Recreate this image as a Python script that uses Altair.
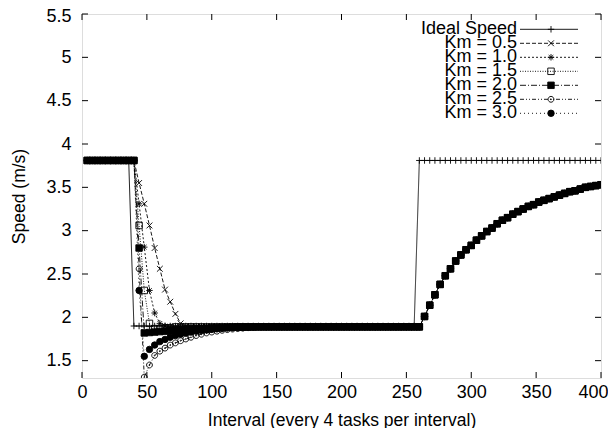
import altair as alt
import pandas as pd

# ---------------- data ----------------
x_values = [4, 8, 12, 16, 20, 24, 28, 32, 36, 40, 44, 48, 52, 56, 60, 64, 68, 72, 76, 80,
            84, 88, 92, 96, 100, 104, 108, 112, 116, 120, 124, 128, 132, 136, 140, 144, 148, 152, 156, 160,
            164, 168, 172, 176, 180, 184, 188, 192, 196, 200, 204, 208, 212, 216, 220, 224, 228, 232, 236, 240,
            244, 248, 252, 256, 260, 264, 268, 272, 276, 280, 284, 288, 292, 296, 300, 304, 308, 312, 316, 320,
            324, 328, 332, 336, 340, 344, 348, 352, 356, 360, 364, 368, 372, 376, 380, 384, 388, 392, 396, 400]

high = [3.81, 3.81, 3.81, 3.81, 3.81, 3.81, 3.81, 3.81, 3.81, 3.81, 3.81, 3.81,
        3.81, 3.81, 3.81, 3.81, 3.81, 3.81, 3.81, 3.81, 3.81, 3.81, 3.81, 3.81,
        3.81, 3.81, 3.81, 3.81, 3.81, 3.81, 3.81, 3.81, 3.81, 3.81, 3.81, 3.81]
ideal_low = [1.9, 1.9, 1.9, 1.9, 1.9, 1.9, 1.9, 1.9, 1.9, 1.9, 1.9, 1.9, 1.9, 1.9,
             1.9, 1.9, 1.9, 1.9, 1.9, 1.9, 1.9, 1.9, 1.9, 1.9, 1.9, 1.9, 1.9, 1.9,
             1.9, 1.9, 1.9, 1.9, 1.9, 1.9, 1.9, 1.9, 1.9, 1.9, 1.9, 1.9, 1.9, 1.9,
             1.9, 1.9, 1.9, 1.9, 1.9, 1.9, 1.9, 1.9, 1.9, 1.9, 1.9, 1.9, 1.9]
km_flat = [1.89, 1.89, 1.89, 1.89, 1.89, 1.89, 1.89, 1.89, 1.89, 1.89, 1.89, 1.89, 1.89,
           1.89, 1.89, 1.89, 1.89, 1.89, 1.89, 1.89, 1.89, 1.89, 1.89, 1.89, 1.89, 1.89,
           1.89, 1.89, 1.89, 1.89, 1.89, 1.89, 1.89, 1.89, 1.89, 1.89, 1.89, 1.89, 1.89,
           1.89, 1.89, 1.89, 1.89, 1.89, 1.89, 1.89, 1.89, 1.89, 1.89]
recovery = [2.01, 2.14, 2.26, 2.38, 2.48, 2.56, 2.65, 2.72, 2.78, 2.83, 2.89, 2.94,
            2.99, 3.03, 3.08, 3.12, 3.15, 3.19, 3.22, 3.25, 3.28, 3.30, 3.33, 3.35,
            3.37, 3.39, 3.41, 3.43, 3.45, 3.46, 3.48, 3.50, 3.51, 3.52, 3.53]

drop_05 = [3.55, 3.31, 3.06, 2.80, 2.56, 2.32, 2.18, 2.04, 1.93, 1.90]
drop_10 = [3.31, 2.81, 2.31, 2.05, 1.93, 1.90]
drop_15 = [3.06, 2.31, 1.93, 1.87, 1.87, 1.88, 1.88]
drop_20 = [2.80, 1.82, 1.825, 1.83, 1.835, 1.84, 1.845, 1.85, 1.855, 1.86, 1.865, 1.87,
           1.873, 1.876, 1.879, 1.882, 1.884, 1.886, 1.888]
drop_25 = [2.56, 1.31, 1.45, 1.56, 1.61, 1.645, 1.68, 1.705, 1.73, 1.75, 1.77, 1.79,
           1.805, 1.82, 1.83, 1.84, 1.85, 1.858, 1.865, 1.87, 1.875, 1.88, 1.885]
drop_30 = [2.31, 1.55, 1.63, 1.68, 1.72, 1.745, 1.77, 1.79, 1.805, 1.82, 1.83, 1.84,
           1.848, 1.855, 1.862, 1.867, 1.872, 1.876, 1.879, 1.882, 1.884, 1.886, 1.888]

series_names = ["Ideal Speed", "Km = 0.5", "Km = 1.0", "Km = 1.5", "Km = 2.0", "Km = 2.5", "Km = 3.0"]
series_values = [
    high[:9] + ideal_low + high,
    high[:10] + drop_05 + km_flat[:45] + recovery,
    high[:10] + drop_10 + km_flat[:49] + recovery,
    high[:10] + drop_15 + km_flat[:48] + recovery,
    high[:10] + drop_20 + km_flat[:36] + recovery,
    high[:10] + drop_25 + km_flat[:32] + recovery,
    high[:10] + drop_30 + km_flat[:32] + recovery,
]

x_ticks = [0, 50, 100, 150, 200, 250, 300, 350, 400]
y_ticks = [1.5, 2, 2.5, 3, 3.5, 4, 4.5, 5, 5.5]

# ---------------- styles ----------------
dashes = [[1, 0], [4, 2], [2, 2], [1, 1.5], [6, 2, 1, 2], [4, 2, 1, 2, 1, 2], [1, 3]]
plus = "M-1,0L1,0M0,-1L0,1"
cross = "M-0.9,-0.9L0.9,0.9M-0.9,0.9L0.9,-0.9"
star = "M-1,0L1,0M0,-1L0,1M-0.7,-0.7L0.7,0.7M-0.7,0.7L0.7,-0.7"
odot = ("M-0.9,0A0.9,0.9 0 1,0 0.9,0A0.9,0.9 0 1,0 -0.9,0"
        "M-0.15,0A0.15,0.15 0 1,0 0.15,0A0.15,0.15 0 1,0 -0.15,0")
shapes = [plus, cross, star, "square", "square", odot, "circle"]
fills = ["transparent", "transparent", "transparent", "transparent", "black", "transparent", "black"]

rows = []
for name, vals in zip(series_names, series_values):
    for xv, yv in zip(x_values, vals):
        rows.append({"x": xv, "y": yv, "series": name})
df = pd.DataFrame(rows)
leg_df = pd.DataFrame({"series": series_names})

W, H = 519, 364
FONT = "Liberation Sans"
FS_TICK = 18
FS_TITLE = 17.5
FS_KEY = 18
SZ = 42

xscale = alt.Scale(domain=[0, 400], nice=False, zero=False)
yscale = alt.Scale(domain=[1.3, 5.5], nice=False, zero=False)
common_axis = dict(ticks=False, domain=False, grid=False, labelFlush=False,
                   labelFont=FONT, labelFontSize=FS_TICK, labelColor="#000000",
                   titleFont=FONT, titleFontSize=FS_TITLE, titleColor="#000000",
                   titleFontWeight="normal")
x_axis = alt.Axis(values=x_ticks, labelPadding=5, titlePadding=10,
                  labelOffset={"condition": {"test": "datum.value >= 390", "value": -8}, "value": 0},
                  title="Interval (every 4 tasks per interval)", **common_axis)
y_axis = alt.Axis(values=y_ticks, format="~g", labelPadding=11, titlePadding=17,
                  labelOffset={"condition": {"test": "datum.value >= 5.4", "value": 2}, "value": 0},
                  title="Speed (m/s)", **common_axis)
X = alt.X("x:Q", scale=xscale, axis=x_axis)
Y = alt.Y("y:Q", scale=yscale, axis=y_axis)

dash_enc = alt.StrokeDash("series:N", sort=series_names,
                          scale=alt.Scale(domain=series_names, range=dashes), legend=None)
shape_enc = alt.Shape("series:N", sort=series_names,
                      scale=alt.Scale(domain=series_names, range=shapes), legend=None)
fill_enc = alt.Fill("series:N", sort=series_names,
                    scale=alt.Scale(domain=series_names, range=fills), legend=None)

lines = alt.Chart(df).mark_line(color="black", strokeWidth=0.9, clip=True).encode(
    x=X, y=Y, strokeDash=dash_enc, order="x:Q")

points = alt.Chart(df).mark_point(stroke="black", strokeWidth=0.9, size=SZ, opacity=1,
                                  clip=True).encode(
    x=X, y=Y, shape=shape_enc, fill=fill_enc)

xt = pd.DataFrame({"x": x_ticks})
yt = pd.DataFrame({"y": y_ticks})
TK = 6
tick_b = alt.Chart(xt).mark_rule(color="black", strokeWidth=1).encode(
    x=X, y=alt.value(H), y2=alt.value(H - TK))
tick_t = alt.Chart(xt).mark_rule(color="black", strokeWidth=1).encode(
    x=X, y=alt.value(0), y2=alt.value(TK))
tick_l = alt.Chart(yt).mark_rule(color="black", strokeWidth=1).encode(
    y=Y, x=alt.value(0), x2=alt.value(TK))
tick_r = alt.Chart(yt).mark_rule(color="black", strokeWidth=1).encode(
    y=Y, x=alt.value(W), x2=alt.value(W - TK))

plot = alt.layer(lines, points, tick_b, tick_t, tick_l, tick_r)

# ---------------- gnuplot-style key (labels left, sample right) ----------------
LY = alt.Y("series:N", sort=series_names,
           scale=alt.Scale(type="point", domain=series_names, range=[15.3, 99.3], padding=0),
           axis=None)
key_text = alt.Chart(leg_df).mark_text(align="right", baseline="middle", font=FONT,
                                       fontSize=FS_KEY, color="black").encode(
    x=alt.value(435), y=LY, text="series:N")
key_line = alt.Chart(leg_df).mark_rule(color="black", strokeWidth=0.9).encode(
    x=alt.value(438), x2=alt.value(496), y=LY, strokeDash=dash_enc)
key_pt = alt.Chart(leg_df).mark_point(stroke="black", strokeWidth=0.9, size=SZ, opacity=1).encode(
    x=alt.value(469), y=LY, shape=shape_enc, fill=fill_enc)
key = alt.layer(key_line, key_pt, key_text)

chart = alt.layer(plot, key).resolve_scale(y="independent").properties(
    width=W, height=H,
    autosize=alt.AutoSizeParams(type="none"),
    padding={"left": 74, "top": 6, "right": 7, "bottom": 50},
).configure_view(
    stroke="black", strokeWidth=1
).configure(background="white")

chart.save("out.html", embed_options={"renderer": "svg", "actions": False})
